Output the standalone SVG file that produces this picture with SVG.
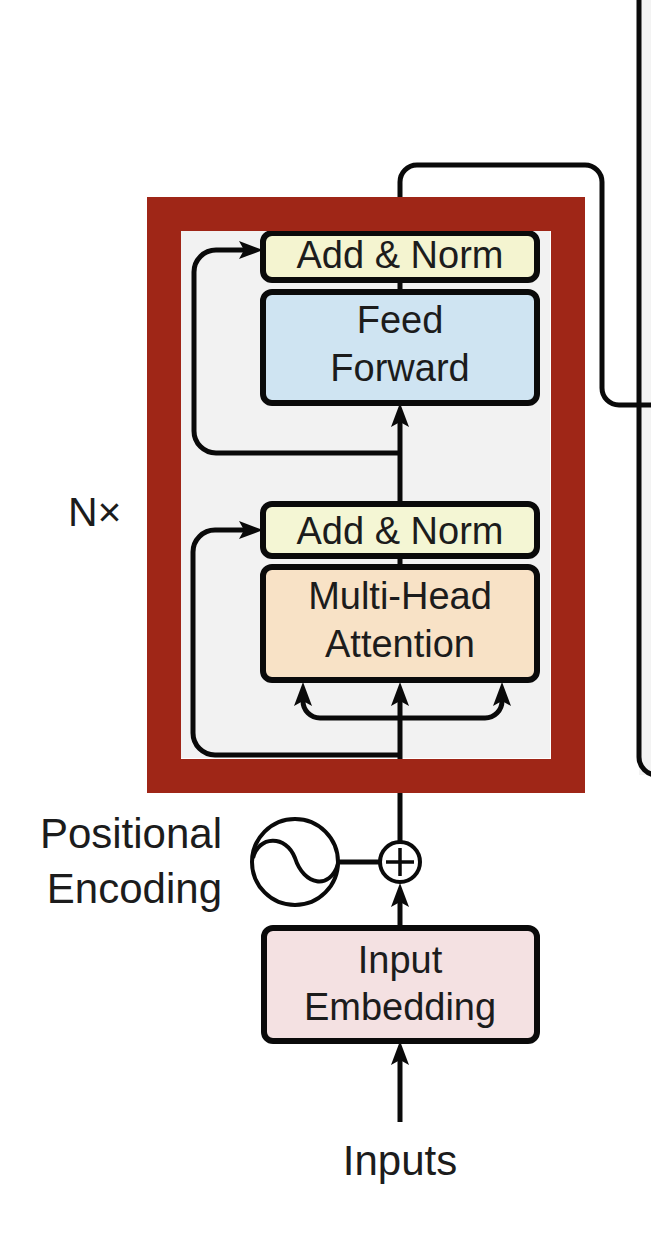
<svg xmlns="http://www.w3.org/2000/svg" width="651" height="1241" viewBox="0 0 651 1241">
<style>
.box{stroke:#0a0a0a;stroke-width:6}
.t{font-family:"Liberation Sans",Arial,Helvetica,sans-serif;fill:#1c1c1c;text-anchor:middle}
.bt{font-size:38px}
.lbl{font-size:42px}
.c{fill:none;stroke:#0a0a0a;stroke-width:5}
</style>
<defs>
<marker id="arr" markerUnits="userSpaceOnUse" viewBox="0 0 24 18" refX="14" refY="9" markerWidth="24" markerHeight="18" orient="auto">
<path d="M0,0 L24,9 L0,18 L5,9 Z" fill="#0a0a0a"/>
</marker>
</defs>
<rect width="651" height="1241" fill="#ffffff"/>
<g id="decoder-edge">
<rect x="639" y="0" width="12" height="775" fill="#f3f3f3"/>
<path class="c" d="M639,0 V757 A18,18 0 0 0 657,775"/>
</g>
<rect id="encoder-bg" x="181" y="231" width="369" height="527" fill="#f2f2f2"/>
<g id="connectors">
<path class="c" d="M400,1122 V1051" marker-end="url(#arr)"/>
<path class="c" d="M400,928 V893" marker-end="url(#arr)"/>
<path class="c" d="M400,841 V692" marker-end="url(#arr)"/>
<path class="c" d="M400,718 H320 A17,17 0 0 1 303,701 V692" marker-end="url(#arr)"/>
<path class="c" d="M400,718 H485 A17,17 0 0 0 502,701 V692" marker-end="url(#arr)"/>
<path class="c" d="M400,755 H215 A22,22 0 0 1 193,733 V552 A22,22 0 0 1 215,530 H253" marker-end="url(#arr)"/>
<path class="c" d="M400,567 V556"/>
<path class="c" d="M400,504 V413" marker-end="url(#arr)"/>
<path class="c" d="M400,453 H216 A22,22 0 0 1 194,431 V272 A22,22 0 0 1 216,250 H253" marker-end="url(#arr)"/>
<path class="c" d="M400,292 V280"/>
<path class="c" d="M400,233 V182 A17,17 0 0 1 417,165 H585 A17,17 0 0 1 602,182 V388 A17,17 0 0 0 619,405 H651"/>
<path class="c" d="M337,862 H381"/>
</g>
<g id="add-norm-2">
<rect class="box" x="263" y="233" width="274" height="47" rx="9" fill="#f4f4d0"/>
<text class="t bt" x="400" y="268">Add &amp; Norm</text>
</g>
<g id="feed-forward">
<rect class="box" x="263" y="292" width="274" height="111" rx="9" fill="#cfe4f2"/>
<text class="t bt" x="400" y="333">Feed</text>
<text class="t bt" x="400" y="381">Forward</text>
</g>
<g id="add-norm-1">
<rect class="box" x="263" y="504" width="274" height="52" rx="9" fill="#f4f6d4"/>
<text class="t bt" x="400" y="544">Add &amp; Norm</text>
</g>
<g id="multi-head-attention">
<rect class="box" x="263" y="567" width="274" height="113" rx="9" fill="#f8e2c6"/>
<text class="t bt" x="400" y="609">Multi-Head</text>
<text class="t bt" x="400" y="657">Attention</text>
</g>
<g id="encoder-frame">
<rect x="164" y="214" width="404" height="562" fill="none" stroke="#9f2617" stroke-width="34"/>
</g>
<g id="nx-label">
<text class="t" x="68" y="526" style="text-anchor:start;font-size:41px">N×</text>
</g>
<g id="positional-encoding">
<circle cx="295" cy="862" r="43" fill="#ffffff" stroke="#0a0a0a" stroke-width="4"/>
<path d="M253,858 C258,836 286,834 295,858 C304,886 330,890 338,864" fill="none" stroke="#0a0a0a" stroke-width="4"/>
<text class="t lbl" x="222" y="848" style="text-anchor:end">Positional</text>
<text class="t lbl" x="222" y="903" style="text-anchor:end">Encoding</text>
</g>
<g id="add-circle">
<circle cx="400" cy="862" r="20" fill="#ffffff" stroke="#0a0a0a" stroke-width="4"/>
<path d="M386,862 H414 M400,848 V876" stroke="#0a0a0a" stroke-width="3.5"/>
</g>
<g id="input-embedding">
<rect class="box" x="264" y="928" width="273" height="113" rx="9" fill="#f4e1e2"/>
<text class="t bt" x="400" y="973">Input</text>
<text class="t bt" x="400" y="1020">Embedding</text>
</g>
<g id="inputs-label">
<text class="t lbl" x="400" y="1175">Inputs</text>
</g>
</svg>
